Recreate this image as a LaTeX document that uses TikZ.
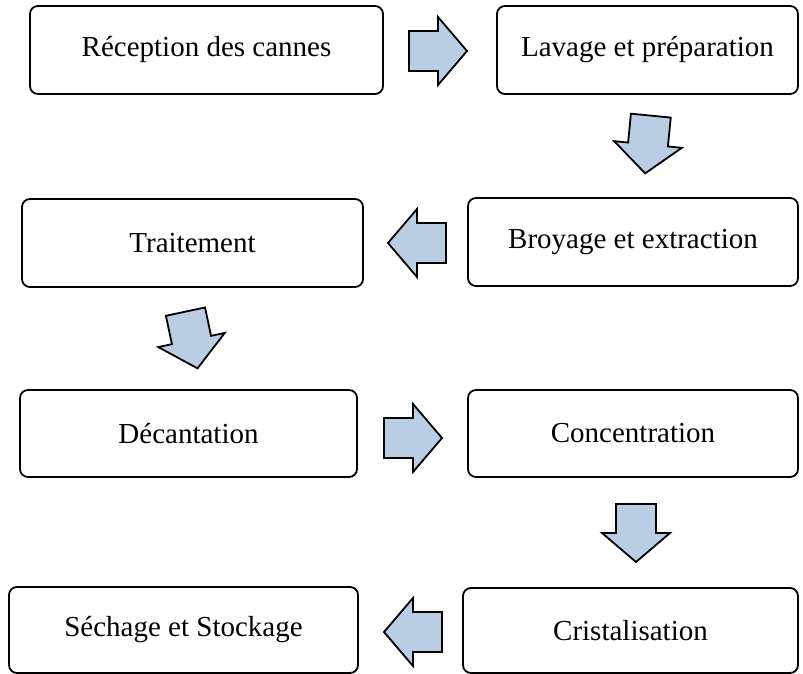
\documentclass[tikz,border=0pt]{standalone}
\usepackage{fontspec}
\setmainfont{Liberation Serif}
\definecolor{flechebleu}{HTML}{B9CDE5}

\begin{document}
\begin{tikzpicture}[x=1pt,y=1pt,
  etape/.style={shape=rectangle,draw,line width=1.8pt,rounded corners=8pt,
    minimum height=88pt,inner sep=0pt,font=\fontsize{29}{32}\selectfont},
  pics/fleche/.style={code={
    \draw[draw=black,fill=flechebleu,line width=1.8pt,line join=miter]
      (-29,-20) -- (0,-20) -- (0,-34) -- (29,0) -- (0,34) -- (0,20) -- (-29,20) -- cycle;}}]
\useasboundingbox (0,0) rectangle (803,-674);
\node (reception)     at (206.5,-50)  [etape,minimum width=353pt] {Réception des cannes};
\node (lavage)        at (647.5,-50)  [etape,minimum width=301pt] {Lavage et préparation};
\node (traitement)    at (192.5,-243) [etape,minimum width=341pt] {Traitement};
\node (broyage)       at (633,-242)   [etape,minimum width=330pt] {Broyage et extraction};
\node (decantation)   at (188.5,-433.5) [etape,minimum width=337pt,minimum height=87pt] {Décantation};
\node (concentration) at (633,-433.5) [etape,minimum width=330pt,minimum height=87pt] {Concentration};
\node (sechage)       at (183.5,-630) [etape,minimum width=349pt,minimum height=86pt] {Séchage et Stockage};
\node (cristal)       at (630.5,-630.5) [etape,minimum width=335pt,minimum height=85pt] {Cristalisation};
\pic at (438,-51)     {fleche};
\pic[rotate=-95.6] at (648,-144.5) {fleche};
\pic[rotate=180] at (417,-243) {fleche};
\pic[rotate=-78] at (191.5,-340) {fleche};
\pic at (413,-438)    {fleche};
\pic[rotate=-90] at (636,-533) {fleche};
\pic[rotate=180] at (413,-632) {fleche};
\end{tikzpicture}
\end{document}
